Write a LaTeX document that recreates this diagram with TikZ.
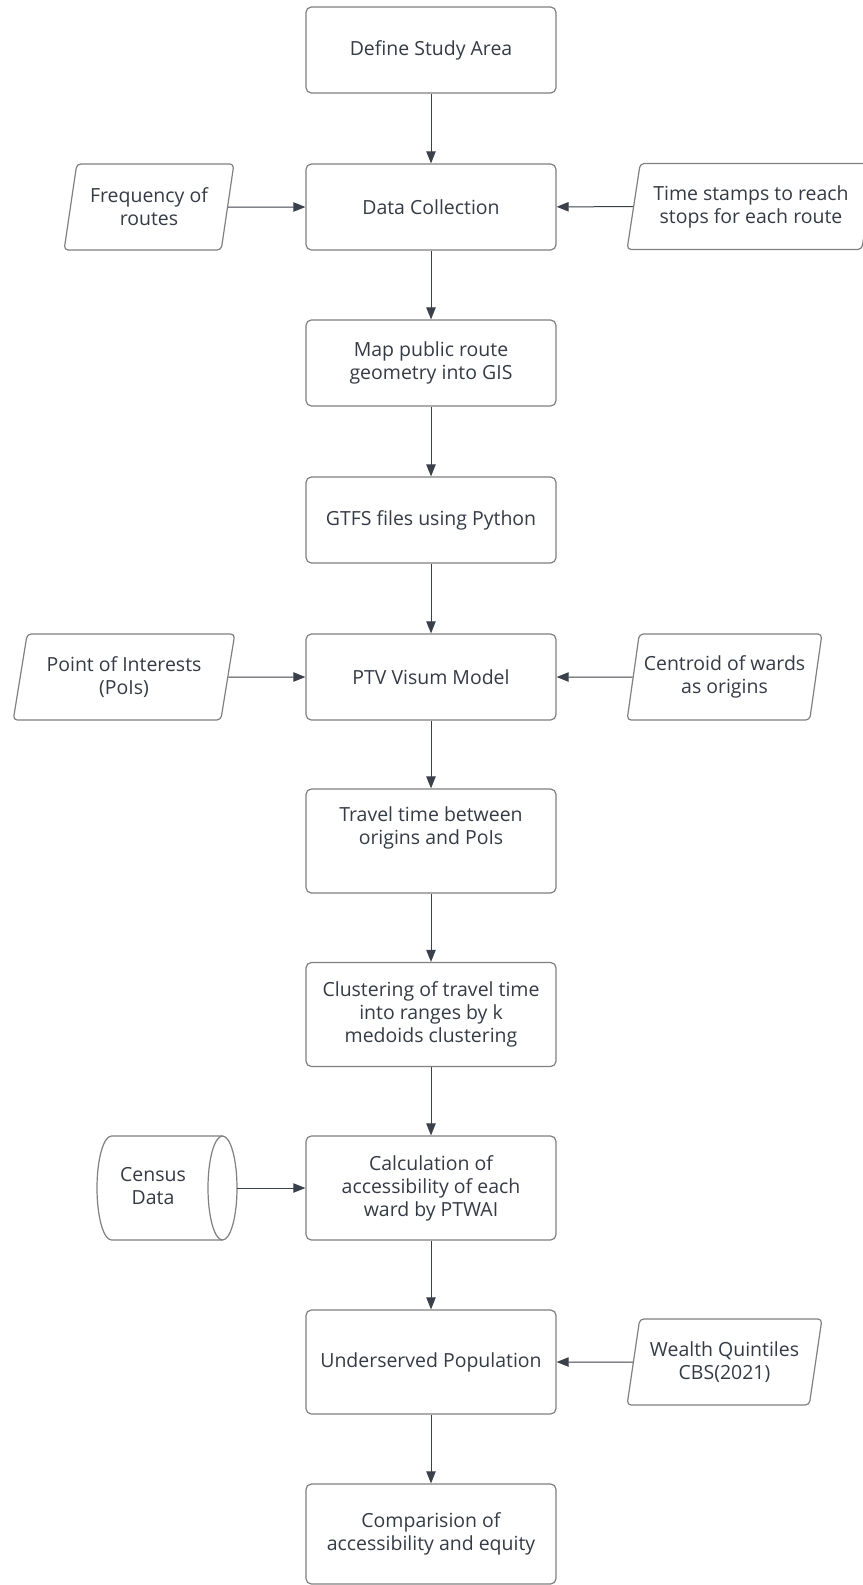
\documentclass[tikz,border=0pt]{standalone}
\usepackage{fontspec}
\setmainfont{Open Sans}
\usetikzlibrary{shapes.geometric,arrows.meta}
\definecolor{txtc}{HTML}{353B45}
\definecolor{bord}{HTML}{808080}
\definecolor{arrc}{HTML}{3B414B}
\begin{document}
\begin{tikzpicture}[x=0.75pt,y=-0.75pt,
  every node/.style={text=txtc, font=\fontsize{14.6}{17.25}\selectfont, align=center, inner sep=2pt},
  box/.style={draw=bord, line width=0.9pt, rounded corners=4pt, minimum width=187.5pt, minimum height=64.5pt},
  tallbox/.style={box, minimum height=78pt},
  para/.style={draw=bord, line width=0.9pt, rounded corners=3pt, trapezium, trapezium left angle=76, trapezium right angle=104, trapezium stretches=true, minimum height=64.5pt},
  dbline/.style={draw=bord, line width=0.9pt},
  arr/.style={draw=arrc, line width=0.75pt, -{Triangle[length=9pt,width=7pt]}}]
\clip (0,0) rectangle (863,1585);
\fill[white] (0,0) rectangle (863,1585);
\useasboundingbox (0,0) rectangle (863,1585);

% main column
\node[box] (define) at (431,50) {Define Study Area};
\node[box] (data) at (431,207) {Data Collection};
\node[box] (map) at (431,363) {Map public route\\geometry into GIS};
\node[box] (gtfs) at (431,520) {GTFS files using Python};
\node[box] (ptv) at (431,677) {PTV Visum Model};
\node[tallbox] (travel) at (431,841) {Travel time between\\origins and PoIs\\\strut};
\node[tallbox] (clust) at (431,1014.5) {Clustering of travel time\\into ranges by k\\medoids clustering};
\node[tallbox] (calc) at (431,1188) {Calculation of\\accessibility of each\\ward by PTWAI};
\node[tallbox] (under) at (431,1362) {Underserved Population};
\node[box, minimum height=75pt] (comp) at (431,1534) {Comparision of\\accessibility and equity};

% side inputs
\node[para, minimum width=127.5pt] (freq) at (149,207) {Frequency of\\routes};
\node[para, minimum width=186pt] (time) at (751,206.5) {Time stamps to reach\\stops for each route};
\node[para, minimum width=166.5pt] (poi) at (124,677) {Point of Interests\\(PoIs)};
\node[para, minimum width=146.25pt] (cent) at (724.5,677) {Centroid of wards\\as origins};
\node[para, minimum width=146.25pt] (wealth) at (724.5,1362) {Wealth Quintiles\\CBS(2021)};

% census data store (cylinder lying on its side)
\node[minimum width=105pt, minimum height=78pt, inner sep=0pt] (census) at (167,1188)
  {\begin{tabular}{@{}c@{}}Census\\Data\end{tabular}\hspace{21pt}};
\draw[dbline] (222.5,1136) -- (111.5,1136)
  arc[start angle=90, end angle=270, x radius=10.875pt, y radius=39pt] -- (222.5,1240);
\draw[dbline] (222.5,1188) ellipse[x radius=10.875pt, y radius=39pt];

% vertical flow
\draw[arr] (define) -- (data);
\draw[arr] (data) -- (map);
\draw[arr] (map) -- (gtfs);
\draw[arr] (gtfs) -- (ptv);
\draw[arr] (ptv) -- (travel);
\draw[arr] (travel) -- (clust);
\draw[arr] (clust) -- (calc);
\draw[arr] (calc) -- (under);
\draw[arr] (under) -- (comp);

% side arrows
\draw[arr] (freq) -- (data);
\draw[arr] (time) -- (data);
\draw[arr] (poi) -- (ptv);
\draw[arr] (cent) -- (ptv);
\draw[arr] (census) -- (calc);
\draw[arr] (wealth) -- (under);
\end{tikzpicture}
\end{document}
